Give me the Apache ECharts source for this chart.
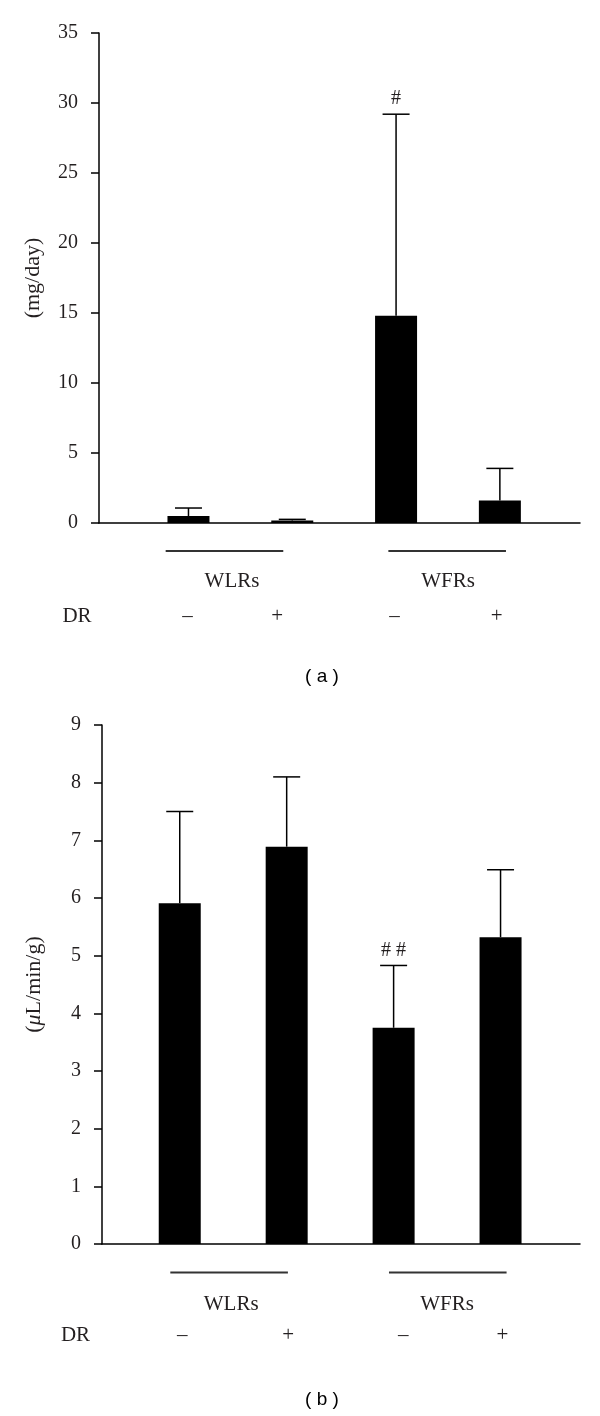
<!DOCTYPE html>
<html>
<head>
<meta charset="utf-8">
<script src="https://cdn.jsdelivr.net/npm/echarts@6/dist/echarts.min.js"></script>
<style>
  html, body { margin: 0; padding: 0; background: #fff; }
  #chart { width: 600px; height: 1416px; }
</style>
</head>
<body>
<div id="chart"></div>
<script>
// ---------------- DATA ----------------
const groups = ['WLRs', 'WFRs'];
const drSigns = ['\u2013', '+', '\u2013', '+'];
const barPositions = [1, 2, 3, 4];

// Panel (a): urinary excretion (mg/day)
const meansA = [0.50, 0.18, 14.8, 1.6];
const errorsA = [0.57, 0.08, 14.4, 2.3];
const sigA = ['', '', '#', ''];
const yTitleA = '(mg/day)';
const yMinA = 0, yMaxA = 35, yStepA = 5;

// Panel (b): (µL/min/g)
const meansB = [5.91, 6.89, 3.75, 5.32];
const errorsB = [1.59, 1.21, 1.08, 1.17];
const sigB = ['', '', '##', ''];
const yMinB = 0, yMaxB = 9, yStepB = 1;

const panelLabels = ['( a )', '( b )'];

// ---------------- LAYOUT / STYLE ----------------
const SERIF = '"Liberation Serif", "Times New Roman", serif';
const INK = '#231f20';
const layout = [
  { grid: { left: 99, top: 33, width: 481, height: 490 }, xMin: 0.138, xMax: 4.772,
    signDx: [-1, -15, -1.5, -3.3], signDy: 93, lineDx: [-15.9, -0.8], lineDy: 28,
    groupDx: [-8.4, 0], groupDy: 58, drX: 77, nameGap: 55, panelY: 677 },
  { grid: { left: 102, top: 725, width: 478, height: 519 }, xMin: 0.273, xMax: 4.743,
    signDx: [2.5, 1.6, 9.7, 1.9], signDy: 91, lineDx: [-4.1, 0.7], lineDy: 28.4,
    groupDx: [-2, 0], groupDy: 60, drX: 75.5, nameGap: 57, panelY: 1400 }
];

function barData(means) { return means.map((v, i) => [barPositions[i], v]); }
function errData(means, errs) { return means.map((v, i) => [barPositions[i], v, errs[i]]); }

function errorRender(sigs) {
  return function (params, api) {
    const x = api.value(0), m = api.value(1), e = api.value(2);
    const p0 = api.coord([x, m]);
    const p1 = api.coord([x, m + e]);
    const cap = 13.5;
    const children = [
      { type: 'line', shape: { x1: p0[0], y1: p0[1], x2: p1[0], y2: p1[1] },
        style: { stroke: '#000', lineWidth: 1.5 } },
      { type: 'line', shape: { x1: p1[0] - cap, y1: p1[1], x2: p1[0] + cap, y2: p1[1] },
        style: { stroke: '#000', lineWidth: 1.5 } }
    ];
    const s = sigs[params.dataIndex];
    if (s) {
      children.push({ type: 'text', x: p1[0], y: p1[1] - 15,
        style: { text: s.split('').join(' '), fill: INK, font: '20px ' + SERIF,
                 textAlign: 'center', textVerticalAlign: 'middle' } });
    }
    return { type: 'group', children };
  };
}

function yAxis(gridIndex, min, max, step, name) {
  return {
    type: 'value', gridIndex, min, max, interval: step,
    name, nameLocation: 'middle', nameGap: layout[gridIndex].nameGap, nameRotate: 90,
    nameTextStyle: { fontFamily: SERIF, fontSize: 22, color: INK,
      rich: { i: { fontFamily: SERIF, fontSize: 22, fontStyle: 'italic', color: INK } } },
    axisLine: { show: true, lineStyle: { color: '#000', width: 1.5 } },
    axisTick: { show: true, inside: false, length: 8, lineStyle: { color: '#000', width: 1.5 } },
    axisLabel: { fontFamily: SERIF, fontSize: 20, color: INK, margin: 21 },
    splitLine: { show: false }
  };
}

function xAxis(gridIndex) {
  return {
    type: 'value', gridIndex, min: layout[gridIndex].xMin, max: layout[gridIndex].xMax,
    axisLine: { show: true, onZero: false, lineStyle: { color: '#000', width: 1.5 } },
    axisTick: { show: false }, axisLabel: { show: false }, splitLine: { show: false }
  };
}

const chart = echarts.init(document.getElementById('chart'), null, { renderer: 'canvas' });
chart.setOption({
  animation: false,
  backgroundColor: '#fff',
  grid: layout.map(l => Object.assign({ containLabel: false }, l.grid)),
  xAxis: [xAxis(0), xAxis(1)],
  yAxis: [
    yAxis(0, yMinA, yMaxA, yStepA, yTitleA),
    yAxis(1, yMinB, yMaxB, yStepB, '({i|\u03bc}L/min/g)')
  ],
  series: [
    { type: 'bar', xAxisIndex: 0, yAxisIndex: 0, data: barData(meansA), barWidth: 42,
      itemStyle: { color: '#000' } },
    { type: 'custom', xAxisIndex: 0, yAxisIndex: 0, data: errData(meansA, errorsA),
      renderItem: errorRender(sigA), z: 3 },
    { type: 'bar', xAxisIndex: 1, yAxisIndex: 1, data: barData(meansB), barWidth: 42,
      itemStyle: { color: '#000' } },
    { type: 'custom', xAxisIndex: 1, yAxisIndex: 1, data: errData(meansB, errorsB),
      renderItem: errorRender(sigB), z: 3 }
  ]
});

// Category annotation rows below each panel, positioned from the axes' own scales
const graphics = [];
layout.forEach((l, g) => {
  const px = v => chart.convertToPixel({ xAxisIndex: g }, v);
  const y0 = chart.convertToPixel({ yAxisIndex: g }, 0);
  drSigns.forEach((s, i) => {
    graphics.push({ type: 'text', x: px(barPositions[i]) + l.signDx[i], y: y0 + l.signDy,
      style: { text: s, font: '21px ' + SERIF, fill: INK, textAlign: 'center', textVerticalAlign: 'middle' } });
  });
  groups.forEach((name, k) => {
    const mid = (px(barPositions[2 * k]) + px(barPositions[2 * k + 1])) / 2;
    graphics.push({ type: 'line', shape: { x1: mid + l.lineDx[k] - 58.8, y1: y0 + l.lineDy,
      x2: mid + l.lineDx[k] + 58.8, y2: y0 + l.lineDy }, style: { stroke: '#333', lineWidth: 2 } });
    graphics.push({ type: 'text', x: mid + l.groupDx[k], y: y0 + l.groupDy,
      style: { text: name, font: '21px ' + SERIF, fill: INK, textAlign: 'center', textVerticalAlign: 'middle' } });
  });
  graphics.push({ type: 'text', x: l.drX, y: y0 + l.signDy,
    style: { text: 'DR', font: '21px ' + SERIF, fill: INK, textAlign: 'center', textVerticalAlign: 'middle' } });
  graphics.push({ type: 'text', x: 322, y: l.panelY,
    style: { text: panelLabels[g], font: '19px "Liberation Sans", Arial, sans-serif', fill: '#000',
             textAlign: 'center', textVerticalAlign: 'middle' } });
});
chart.setOption({ graphic: graphics });
</script>
</body>
</html>
